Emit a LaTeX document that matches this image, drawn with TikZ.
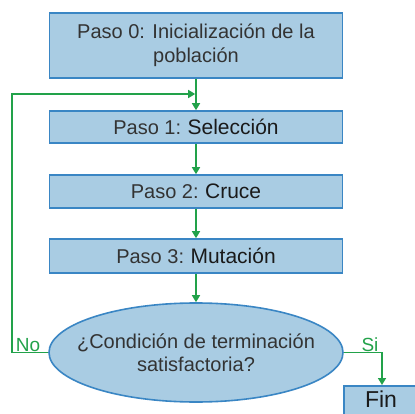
\documentclass[tikz,border=0pt]{standalone}
\usepackage{fontspec}
\setmainfont{Liberation Sans}
\usetikzlibrary{arrows.meta,shapes.geometric}
\definecolor{boxfill}{HTML}{A9CCE3}
\definecolor{boxline}{HTML}{3A86C4}
\definecolor{arrowgreen}{HTML}{22A24A}
\definecolor{txtgray}{HTML}{333333}
\definecolor{txtdark}{HTML}{1A1A1A}
\tikzset{
  stepbox/.style={draw=boxline, fill=boxfill, line width=1.6pt, minimum width=293pt, inner sep=0pt, align=center, text=txtgray, font=\fontsize{20}{24}\selectfont},
  decision/.style={ellipse, draw=boxline, fill=boxfill, line width=1.6pt, minimum width=294pt, minimum height=99pt, inner sep=0pt},
  flow/.style={draw=arrowgreen, line width=1.6pt, -{Triangle[length=7pt,width=8pt]}},
  lbl/.style={text=arrowgreen, font=\fontsize{19}{22}\selectfont, inner sep=0pt},
  txt/.style={align=center, text=txtgray, font=\fontsize{20}{23}\selectfont, inner sep=0pt}
}
\begin{document}
\begin{tikzpicture}[x=1pt,y=1pt]
\useasboundingbox (0,0) rectangle (415,-414);
\fill[white] (0,0) rectangle (415,-414);
\node[stepbox, minimum height=65pt] (s0) at (196,-45.5) {Paso 0: Inicialización de la\\poblaci\'on};
\node[stepbox, minimum height=32pt] (s1) at (196,-127) {Paso 1:\hspace{-1pt} {\color{txtdark}\fontsize{21}{23}\selectfont Selección}};
\node[stepbox, minimum height=33pt] (s2) at (196,-191.5) {Paso 2:\hspace{-1pt} {\color{txtdark}\fontsize{21}{23}\selectfont Cruce}};
\node[stepbox, minimum height=34pt] (s3) at (196,-256) {Paso 3:\hspace{-1pt} {\color{txtdark}\fontsize{21}{23}\selectfont Mutación}};
\node[decision] (cond) at (196,-352.5) {};
\node[txt] (condtxt) at (196,-352.5) {¿Condición de terminación\\satisfactoria?};
\node[stepbox, minimum width=80pt, minimum height=40pt, anchor=north west] (fin) at (343,-385) {};
\node[text=txtdark, font=\fontsize{23}{26}\selectfont, inner sep=0pt] (fintxt) at (381,-399) {Fin};
\coordinate (loopA) at (12,-352.5);
\coordinate (loopB) at (12,-94);
\coordinate (loopC) at (196,-94);
\coordinate (siA) at (382,-352.5);
\draw[flow] (s0.south) -- (s1.north);
\draw[flow] (s1.south) -- (s2.north);
\draw[flow] (s2.south) -- (s3.north);
\draw[flow] (s3.south) -- (cond.north);
\draw[flow] (cond.west) -- (loopA) -- (loopB) -- ([xshift=-0.8pt]loopC);
\draw[flow] (cond.east) -- (siA) -- (siA |- fin.north);
\node[lbl] (no) at (28,-345) {No};
\node[lbl] (si) at (370,-345) {Si};
\end{tikzpicture}
\end{document}
